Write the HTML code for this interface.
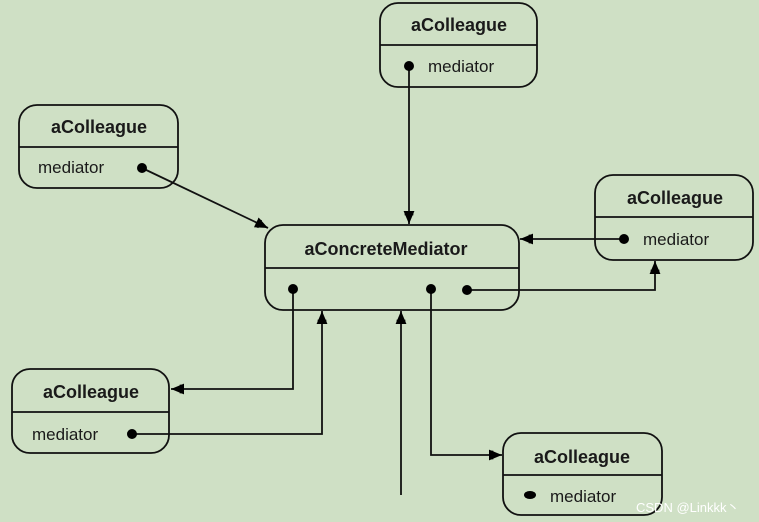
<!DOCTYPE html>
<html><head><meta charset="utf-8"><style>
html,body{margin:0;padding:0;background:#cfe0c5;}
svg{display:block}
text{font-family:"Liberation Sans",sans-serif;fill:#1a1a1a}
</style></head><body>
<svg width="759" height="522" viewBox="0 0 759 522" xmlns="http://www.w3.org/2000/svg">
<defs>
<marker id="a" viewBox="0 0 12 12" refX="12" refY="6" markerWidth="13" markerHeight="13" markerUnits="userSpaceOnUse" orient="auto">
<path d="M0,1 L12,6 L0,11 Z" fill="#000"/>
<rect x="0" y="2" width="4" height="8" fill="#000"/>
</marker>
</defs>
<rect width="759" height="522" fill="#cfe0c5"/>
<g fill="none" stroke="#111" stroke-width="1.8">
<rect x="380" y="3" width="157" height="84" rx="18"/><line x1="380" y1="45" x2="537" y2="45"/>
<rect x="19" y="105" width="159" height="83" rx="18"/><line x1="19" y1="147" x2="178" y2="147"/>
<rect x="595" y="175" width="158" height="85" rx="18"/><line x1="595" y1="217" x2="753" y2="217"/>
<rect x="265" y="225" width="254" height="85" rx="18"/><line x1="265" y1="268" x2="519" y2="268"/>
<rect x="12" y="369" width="157" height="84" rx="18"/><line x1="12" y1="412" x2="169" y2="412"/>
<rect x="503" y="433" width="159" height="82" rx="18"/><line x1="503" y1="475" x2="662" y2="475"/>
</g>
<g fill="none" stroke="#111" stroke-width="1.8" marker-end="url(#a)">
<path d="M409,66 L409,224"/>
<path d="M142,168 L268,228"/>
<path d="M624,239 L520,239"/>
<path d="M467,290 L655,290 L655,261"/>
<path d="M293,289 L293,389 L171,389"/>
<path d="M132,434 L322,434 L322,311"/>
<path d="M401,495 L401,311"/>
<path d="M431,289 L431,455 L502,455"/>
</g>
<g fill="#000">
<circle cx="409" cy="66" r="5"/><circle cx="142" cy="168" r="5"/><circle cx="624" cy="239" r="5"/>
<circle cx="293" cy="289" r="5"/><circle cx="431" cy="289" r="5"/><circle cx="467" cy="290" r="5"/>
<circle cx="132" cy="434" r="5"/><ellipse cx="530" cy="495" rx="6" ry="4"/>
</g>
<g font-size="18" font-weight="bold" text-anchor="middle">
<text x="459" y="31">aColleague</text>
<text x="99" y="133">aColleague</text>
<text x="675" y="204">aColleague</text>
<text x="386" y="255">aConcreteMediator</text>
<text x="91" y="398">aColleague</text>
<text x="582" y="463">aColleague</text>
</g>
<g font-size="17">
<text x="428" y="72">mediator</text>
<text x="38" y="173">mediator</text>
<text x="643" y="245">mediator</text>
<text x="32" y="440">mediator</text>
<text x="550" y="502">mediator</text>
</g>
<text x="636" y="512" font-size="13" style="fill:#fff">CSDN @Linkkk丶</text>
</svg>
</body></html>
